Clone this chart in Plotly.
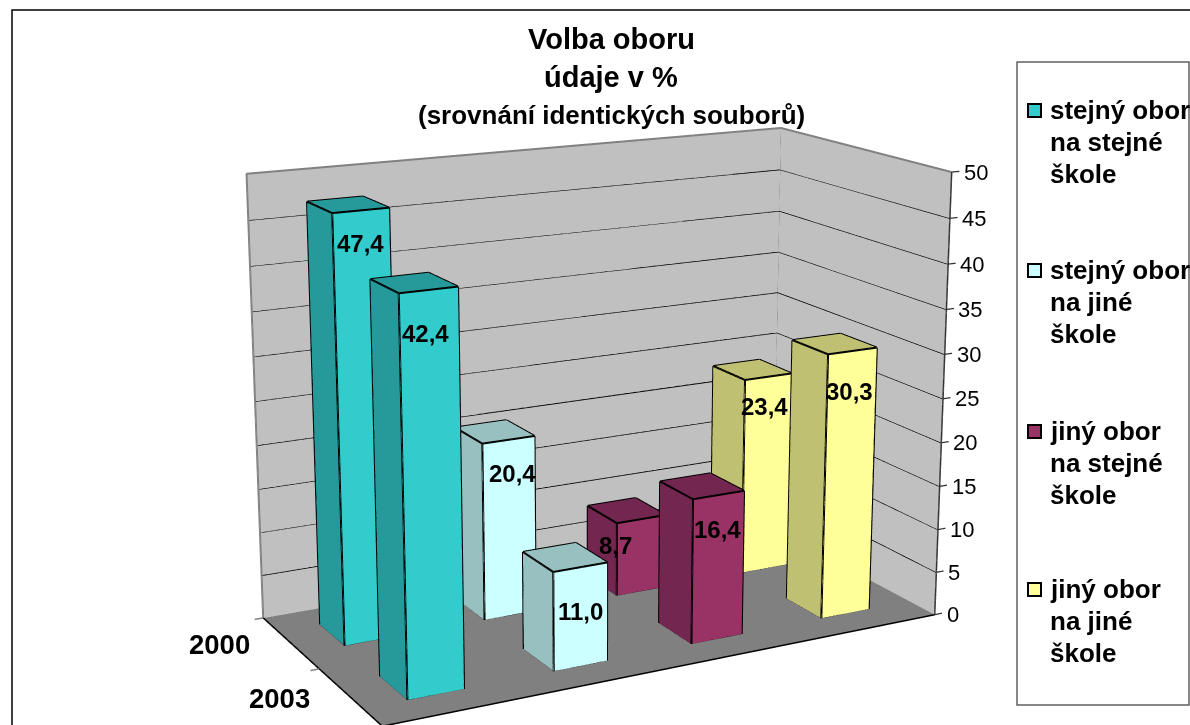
import plotly.graph_objects as go

W, H = 1190, 1963      # scene canvas: the reference's focal length needs this height
OFFSET_Y = 619         # page moved up so the scene's centre falls on the window's centre
categories = ["stejný obor<br>na stejné<br>škole", "stejný obor<br>na jiné<br>škole",
              "jiný obor<br>na stejné<br>škole", "jiný obor<br>na jiné<br>škole"]
years = ["2000", "2003"]
values_2000 = [47.4, 20.4, 8.7, 23.4]
values_2003 = [42.4, 11.0, 16.4, 30.3]
z_ticks = [0, 5, 10, 15, 20, 25, 30, 35, 40, 45, 50]
front_colors = ["#33CCCC", "#CCFFFF", "#993366", "#FFFF99"]
side_colors = ["#269A9A", "#99C0C0", "#732650", "#C0C073"]
title_lines = ["Volba oboru", "údaje v %", "(srovnání identických souborů)"]

BAR = 0.38
BAR_DEPTH = 0.42
CENTER = 0.48
ROWS = {"2000": 1.5, "2003": 0.5}
XMAX, YMAX, ZMAX = 4, 2, 50
TICK = 0.06
# nudges of the value labels, in pixels, per row and per category
LABEL_NUDGE = {"2000": [(0, 4), (4, 4), (-26, 11), (-4, 8)],
               "2003": [(-3, -6), (0, -7), (-1, 3), (-3, -3)]}
fig = go.Figure()
FLAT = dict(ambient=1, diffuse=0, specular=0, fresnel=0)


def box(x0, x1, y0, y1, z0, z1, front, side):
    xs = [x0, x1, x1, x0, x0, x1, x1, x0]
    ys = [y0, y0, y1, y1, y0, y0, y1, y1]
    zs = [z0, z0, z0, z0, z1, z1, z1, z1]
    i = [0, 0, 4, 4, 0, 0, 3, 3, 1, 1, 0, 0]
    j = [1, 2, 5, 6, 1, 5, 2, 6, 2, 6, 3, 7]
    k = [2, 3, 6, 7, 5, 4, 6, 7, 6, 5, 7, 4]
    fc = [side, side, side, side, front, front, front, front, side, side, side, side]
    fig.add_trace(go.Mesh3d(x=xs, y=ys, z=zs, i=i, j=j, k=k, facecolor=fc, flatshading=True,
                            lighting=FLAT, hoverinfo="skip", showscale=False))
    ex, ey, ez = [], [], []
    for a, b in [(0, 1), (1, 2), (2, 3), (3, 0), (4, 5), (5, 6), (6, 7), (7, 4), (0, 4), (1, 5), (2, 6), (3, 7)]:
        ex += [xs[a], xs[b], None]
        ey += [ys[a], ys[b], None]
        ez += [zs[a], zs[b], None]
    fig.add_trace(go.Scatter3d(x=ex, y=ey, z=ez, mode="lines", line=dict(color="black", width=4),
                               hoverinfo="skip", showlegend=False))


def plane(xs, ys, zs, color):
    fig.add_trace(go.Mesh3d(x=xs, y=ys, z=zs, i=[0, 0], j=[1, 2], k=[2, 3], color=color, flatshading=True,
                            lighting=FLAT, hoverinfo="skip"))


def lines(xs, ys, zs, color, width):
    fig.add_trace(go.Scatter3d(x=xs, y=ys, z=zs, mode="lines", line=dict(color=color, width=width),
                               hoverinfo="skip", showlegend=False))


plane([0, XMAX, XMAX, 0], [YMAX] * 4, [0, 0, ZMAX, ZMAX], "#C0C0C0")
plane([XMAX] * 4, [0, YMAX, YMAX, 0], [0, 0, ZMAX, ZMAX], "#C0C0C0")
plane([0, XMAX, XMAX, 0], [0, 0, YMAX, YMAX], [0] * 4, "#808080")

for t in z_ticks[1:-1]:
    lines([0, XMAX, XMAX], [YMAX, YMAX, 0], [t, t, t], "black", 2.5)
for t in z_ticks:
    lines([XMAX, XMAX + TICK], [0, 0], [t, t], "#333333", 2.5)
lines([0, 0, XMAX, XMAX], [YMAX, YMAX, YMAX, 0], [0, ZMAX, ZMAX, ZMAX], "#808080", 4)
lines([XMAX, XMAX], [YMAX, YMAX], [0, ZMAX], "#808080", 4)
lines([XMAX, XMAX], [0, 0], [0, ZMAX], "#333333", 3)
lines([0, XMAX], [0, 0], [0, 0], "black", 3)
lines([0, 0], [0, YMAX], [0, 0], "black", 3)
for y in [1, 2]:
    lines([0, -TICK], [y, y], [0, 0], "#808080", 3)

scene_ann = []
for row, vals in zip(years, [values_2000, values_2003]):
    yc = ROWS[row]
    for n, v in enumerate(vals):
        xc = n + CENTER
        box(xc - BAR / 2, xc + BAR / 2, yc - BAR_DEPTH / 2, yc + BAR_DEPTH / 2, 0, v, front_colors[n], side_colors[n])
        dx, dy = LABEL_NUDGE[row][n]
        scene_ann.append(dict(x=xc, y=yc - BAR_DEPTH / 2, z=v, text=f"{v:.1f}".replace(".", ","), showarrow=False,
                              yanchor="top", xshift=dx, yshift=-22 + dy,
                              font=dict(family="Liberation Sans", size=24, color="black", weight="bold")))

for t in z_ticks:
    scene_ann.append(dict(x=XMAX, y=0, z=t, text=str(t), showarrow=False, xanchor="left", xshift=10,
                          font=dict(family="Liberation Sans", size=22, color="black")))
for row in years:
    scene_ann.append(dict(x=0, y=ROWS[row], z=0, text=row, showarrow=False, xanchor="right", xshift=-38, yshift=-2,
                          font=dict(family="Liberation Sans", size=27.5, color="black", weight="bold")))


def px(x):
    return x / W


def py(y):
    return 1 - (y + OFFSET_Y) / H


shapes = [
    dict(type="rect", xref="paper", yref="paper", x0=px(12), x1=px(1300), y0=py(800), y1=py(10),
         line=dict(color="black", width=1.5), fillcolor="rgba(0,0,0,0)"),
    dict(type="rect", xref="paper", yref="paper", x0=px(1017), x1=px(1189), y0=py(705), y1=py(62),
         line=dict(color="#606060", width=1.5), fillcolor="white"),
]
anns = []
for text, y, size in zip(title_lines, [39, 77, 115], [29, 29, 26]):
    anns.append(dict(xref="paper", yref="paper", x=px(611), y=py(y), text=text, showarrow=False, yanchor="middle",
                     font=dict(family="Liberation Sans", size=size, color="black", weight="bold")))
for c, y, col in zip(categories, [110, 270, 431, 589], front_colors):
    for m, part in enumerate(c.split("<br>")):
        anns.append(dict(xref="paper", yref="paper", x=px(1048), y=py(y + 32 * m), text=part, showarrow=False,
                         xanchor="left", yanchor="middle",
                         font=dict(family="Liberation Sans", size=26, color="black", weight="bold")))
    shapes.append(dict(type="rect", xref="paper", yref="paper", x0=px(1028), x1=px(1041), y0=py(y + 7), y1=py(y - 6),
                       line=dict(color="black", width=2), fillcolor=col))

hidden = dict(visible=False)
fig.update_layout(
    width=W, height=H, margin=dict(l=0, r=0, t=0, b=0), paper_bgcolor="white", showlegend=False,
    shapes=shapes, annotations=anns,
    scene=dict(
        domain=dict(x=[0, 1], y=[0, 1]),
        xaxis=dict(hidden, range=[-TICK, XMAX + TICK]), yaxis=dict(hidden, range=[0, YMAX]), zaxis=dict(hidden, range=[0, ZMAX]),
        aspectmode="manual", aspectratio=dict(x=1.333 * (XMAX + 2 * TICK) / XMAX, y=0.68, z=1),
        camera=dict(eye=dict(x=-2.326, y=-4.389, z=1.377), center=dict(x=0.0006, y=0.023, z=0.079), up=dict(x=0, y=0, z=1),
                    projection=dict(type="perspective")),
        annotations=scene_ann,
    ),
)
fig.write_html("out.html", config=dict(displayModeBar=False),
               post_script=f"document.documentElement.style.overflow='hidden';document.body.style.overflow='hidden';document.body.style.margin='0';"
                           f"document.querySelector('.plotly-graph-div').style.marginTop='-{OFFSET_Y}px';")
